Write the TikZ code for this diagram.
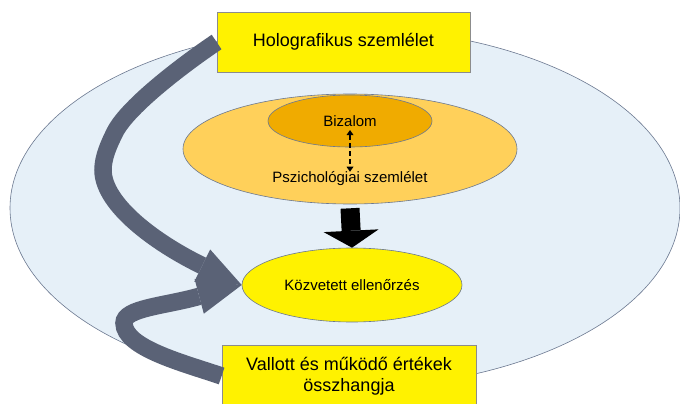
\documentclass[tikz,border=0pt]{standalone}
\usepackage{fontspec}
\setmainfont{Liberation Sans}
\usetikzlibrary{shapes.geometric,arrows.meta}
\definecolor{bgblue}{HTML}{E6F0F8}
\definecolor{edgecol}{HTML}{6B7890}
\definecolor{psycol}{HTML}{FFD05A}
\definecolor{bizcol}{HTML}{F0AB00}
\definecolor{slate}{HTML}{5A6276}
\definecolor{boxedge}{HTML}{8C8C8C}
\begin{document}
\begin{tikzpicture}[x=1pt,y=-1pt,
  oval/.style={ellipse,draw=edgecol,line width=0.6pt,inner sep=0pt},
  ybox/.style={rectangle,draw=boxedge,fill=yellow,line width=0.8pt,inner sep=0pt,align=center},
  bigtxt/.style={font=\fontsize{18}{21}\selectfont},
  smalltxt/.style={font=\fontsize{15}{18}\selectfont},
  curvedarrow/.style={draw=slate,line width=17.5pt,-{Triangle[length=44pt,width=36pt,line width=0pt]}}
]
\useasboundingbox (0,0) rectangle (680,404);
\node[oval,fill=bgblue,minimum width=670pt,minimum height=360pt] (bg) at (345,208) {};
\node[oval,fill=psycol,minimum width=334pt,minimum height=110pt] (psy) at (350,149) {};
\node[oval,fill=bizcol,minimum width=164pt,minimum height=52pt] (biz) at (350,121) {};
\node[smalltxt] (bizt) at (350,121) {Bizalom};
\node[smalltxt,inner sep=0pt] (pszt) at (350,179) {Pszichológiai szemlélet};
\node[oval,fill=yellow,minimum width=220pt,minimum height=74pt,smalltxt] (kozv) at (352,285) {Közvetett ellenőrzés};
\node[ybox,bigtxt,minimum width=253pt,minimum height=60pt] (holo) at (343.5,42) {Holografikus szemlélet};
\node[ybox,bigtxt,minimum width=254pt,minimum height=62pt] (vall) at (349,376) {Vallott és működő értékek\\összhangja};
\draw[dash pattern=on 5pt off 3pt,line width=1.8pt,
  {Triangle[length=5pt,width=7pt,line width=0pt]}-{Triangle[length=5pt,width=7pt,line width=0pt]}]
  (bizt.south) -- (pszt.north);
\draw[line width=19pt,-{Triangle[length=17pt,width=55pt,line width=0pt]}]
  ([yshift=-4pt]psy.south) -- (kozv.north);
\draw[curvedarrow] (holo.west) .. controls (187.9,61.2) and (128.5,105.3) .. (115,132)
  .. controls (109.2,143.6) and (103,157) .. (103,170)
  .. controls (103,205) and (157,243.5) .. (201,265) -- (kozv.west);
\draw[curvedarrow] (vall.west) .. controls (183.8,363.1) and (124,348) .. (124,323)
  .. controls (124,308) and (164.8,306) .. (198.5,296.5) -- (kozv.west);
\end{tikzpicture}
\end{document}
